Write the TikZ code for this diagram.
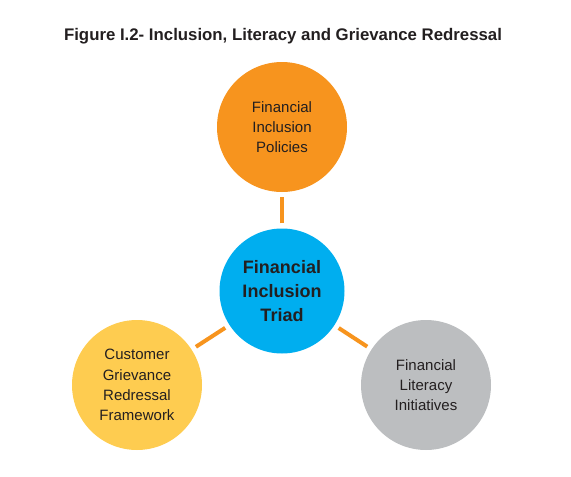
\documentclass[tikz,border=0pt]{standalone}
\usepackage{fontspec}
\setmainfont{Liberation Sans}
\definecolor{triorange}{RGB}{247,148,30}
\definecolor{triblue}{RGB}{0,174,239}
\definecolor{triyellow}{RGB}{254,204,80}
\definecolor{trigray}{RGB}{188,190,192}
\definecolor{tritext}{RGB}{35,31,32}
\tikzset{
  pillar/.style={circle, inner sep=0pt, minimum size=130pt, align=center, text=tritext,
    font=\fontsize{15}{20.3}\selectfont},
  hub/.style={circle, inner sep=0pt, minimum size=125pt, align=center, text=tritext,
    fill=triblue, font=\bfseries\fontsize{18}{24.2}\selectfont},
  link/.style={draw=triorange, line width=4pt, shorten <=5pt, shorten >=5pt}
}
\begin{document}
\begin{tikzpicture}[x=1pt, y=-1pt]
\useasboundingbox (0,0) rectangle (571,477);

%Title
\node[text=tritext, font=\bfseries\fontsize{16.8}{20}\selectfont] (title) at (283,36)
  {Figure I.2- Inclusion, Literacy and Grievance Redressal};

%Triad centre
\node[hub] (triad) at (282,291) {Financial\\Inclusion\\Triad};

%Outer circles
\node[pillar, fill=triorange] (policies) at (282,127) {Financial\\Inclusion\\Policies};
\node[pillar, fill=triyellow] (grievance) at (137,385) {Customer\\Grievance\\Redressal\\Framework};
\node[pillar, fill=trigray] (literacy) at (426,385) {Financial\\Literacy\\Initiatives};

%Links
\draw[link] (triad) -- (policies);
\draw[link] (triad) -- (grievance);
\draw[link] (triad) -- (literacy);
\end{tikzpicture}
\end{document}
